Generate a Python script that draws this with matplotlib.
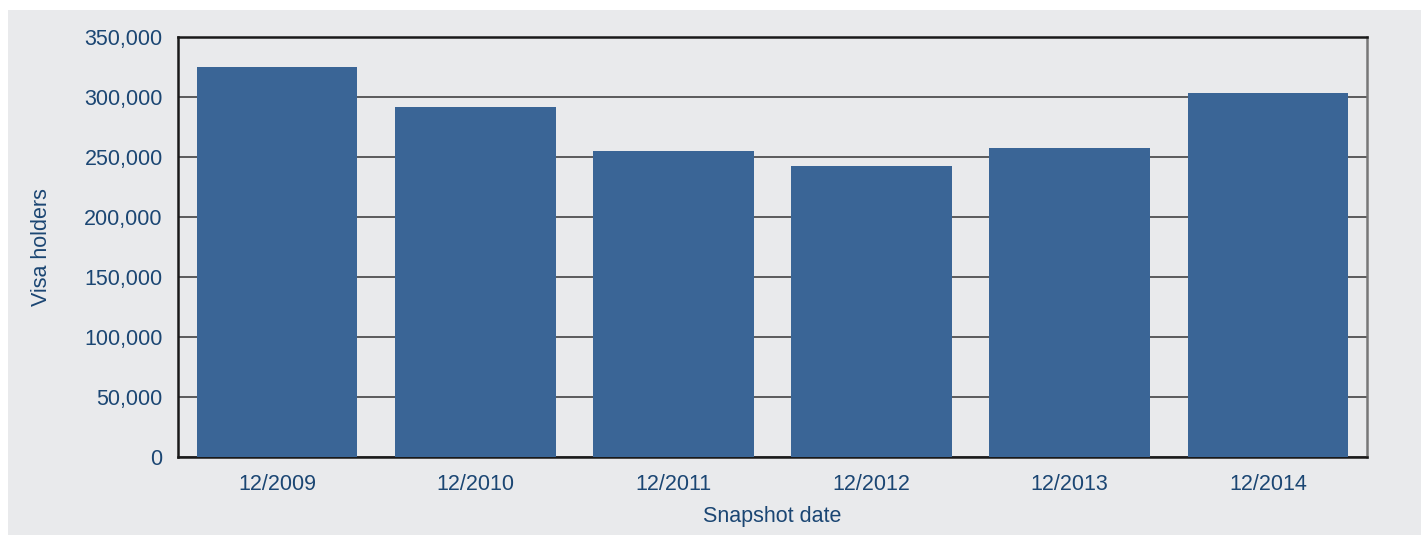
import matplotlib
matplotlib.use("Agg")
from matplotlib import pyplot as plt
from matplotlib.patches import Rectangle
from matplotlib.ticker import FuncFormatter

# data
dates = ["12/2009", "12/2010", "12/2011", "12/2012", "12/2013", "12/2014"]
holders = [325000, 291700, 255000, 242500, 257500, 303300]

TEXT = "#1b4673"
BAR = "#3a6596"
BG = "#e9eaec"

plt.rcParams["font.family"] = ["Liberation Sans", "DejaVu Sans"]

fig = plt.figure(figsize=(14.21, 5.35), dpi=100)
fig.patch.set_facecolor("white")
fig.patches.append(Rectangle((8 / 1421, 0), 1 - 8 / 1421, 1 - 10 / 535,
                             transform=fig.transFigure, facecolor=BG,
                             edgecolor="none", zorder=-10))

ax = fig.add_axes([178 / 1421, 78 / 535, 1189 / 1421, 420 / 535])
ax.set_zorder(5)
ax.set_facecolor(BG)

x = range(len(dates))
ax.bar(x, holders, width=0.81, color=BAR, zorder=3)

ax.set_xlim(-0.5, len(dates) - 0.5)
ax.set_ylim(0, 350000)
ax.set_yticks(range(0, 350001, 50000))
ax.yaxis.set_major_formatter(FuncFormatter(lambda v, p: f"{int(v):,}"))
ax.set_xticks(list(x))
ax.set_xticklabels(dates)

ax.grid(axis="y", color="#505050", linewidth=1.3, zorder=1)
ax.tick_params(length=0, labelsize=15.5, labelcolor=TEXT)
ax.tick_params(axis="y", pad=11)
ax.tick_params(axis="x", pad=12)

ax.set_xlabel("Snapshot date", fontsize=15.5, color=TEXT, labelpad=8)
ax.set_ylabel("Visa holders", fontsize=15.5, color=TEXT, labelpad=23)

for side in ["left", "bottom", "top"]:
    ax.spines[side].set_color("#1a1a1a")
    ax.spines[side].set_linewidth(1.8)
ax.spines["right"].set_color("#777777")
ax.spines["right"].set_linewidth(1.8)

fig.savefig("out.png", dpi=100, facecolor=fig.get_facecolor())
